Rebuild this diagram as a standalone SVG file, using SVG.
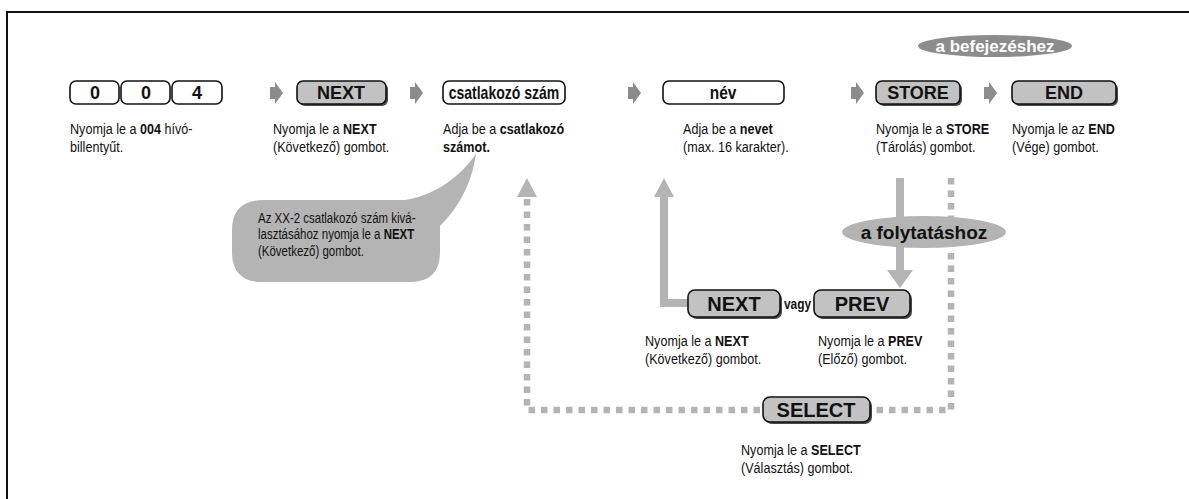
<svg xmlns="http://www.w3.org/2000/svg" width="1189" height="499" viewBox="0 0 1189 499">
  <defs>
    <style>
      text { font-family: "Liberation Sans", Arial, sans-serif; fill: #111; }
      .lbl { font-size: 18px; font-weight: bold; text-anchor: middle; }
      .lbl2 { font-size: 20px; font-weight: bold; text-anchor: middle; }
      .desc { font-size: 15px; }
      .note { font-size: 14px; }
      .b { font-weight: bold; }
      .key { fill: #fff; stroke: #111; stroke-width: 1.6; }
      .btn { fill: #c2c2c2; stroke: #111; stroke-width: 1.6; }
      .sh { fill: #4a4a4a; }
      .step { fill: #8c8c8c; }
      .flow { fill: #b4b4b4; }
      .dash { fill: none; stroke: #b4b4b4; stroke-width: 6.5; stroke-dasharray: 6.5 6; }
    </style>
    <!-- block arrow pointing to the next stage -->
    <polygon id="step" class="step" points="0,-6 5,-6 5,-11 13,0 5,11 5,6 0,6"/>
  </defs>

  <rect width="1189" height="499" fill="#fff"/>
  <!-- open frame: top and left edges -->
  <path d="M7,499 V12 H1189" fill="none" stroke="#111" stroke-width="2"/>

  <g id="connectors">
    <use href="#step" x="270" y="93"/>
    <use href="#step" x="410" y="93"/>
    <use href="#step" x="628" y="93"/>
    <use href="#step" x="851" y="93"/>
    <use href="#step" x="984" y="93"/>
    <!-- back to name entry -->
    <path class="flow" d="M660,197 H654 L664,178 L674,197 H668 V299 H690 V307 H660 Z"/>
    <!-- continue: down to NEXT / PREV -->
    <path class="flow" d="M896,178 H904 V270 H913 L900,288 L887,270 H896 Z"/>
    <!-- SELECT loop back to the number entry -->
    <path class="dash" d="M527,199 V410 H763"/>
    <polygon class="flow" points="527,178 537,197 517,197"/>
    <path class="dash" d="M951,178 V410 H872"/>
  </g>

  <g id="key-004">
    <rect class="key" x="70" y="81" width="49" height="23" rx="6"/>
    <rect class="key" x="121" y="81" width="49" height="23" rx="6"/>
    <rect class="key" x="172" y="81" width="50" height="23" rx="6"/>
    <text class="lbl" x="95" y="99">0</text>
    <text class="lbl" x="146" y="99">0</text>
    <text class="lbl" x="197" y="99">4</text>
    <text class="desc" transform="matrix(0.84 0 0 1 70 134)">Nyomja le a <tspan class="b">004</tspan> hívó-<tspan x="0" y="18">billentyűt.</tspan></text>
  </g>

  <g id="next">
    <rect class="sh" x="299" y="83" width="89" height="23" rx="6"/>
    <rect class="btn" x="297" y="81" width="89" height="23" rx="6"/>
    <text class="lbl" x="341" y="99">NEXT</text>
    <text class="desc" transform="matrix(0.84 0 0 1 273 134)">Nyomja le a <tspan class="b">NEXT</tspan><tspan x="0" y="18">(Következő) gombot.</tspan></text>
  </g>

  <g id="port-number">
    <rect class="key" x="443" y="81" width="122" height="23" rx="6"/>
    <text class="lbl" transform="matrix(0.78 0 0 1 504 99)">csatlakozó szám</text>
    <text class="desc" transform="matrix(0.84 0 0 1 443 134)">Adja be a <tspan class="b">csatlakozó</tspan><tspan class="b" x="0" y="18">számot.</tspan></text>
  </g>

  <g id="name">
    <rect class="key" x="663" y="81" width="121" height="23" rx="6"/>
    <text class="lbl" transform="matrix(0.86 0 0 1 723 99)">név</text>
    <text class="desc" transform="matrix(0.84 0 0 1 683 134)">Adja be a <tspan class="b">nevet</tspan><tspan x="0" y="18">(max. 16 karakter).</tspan></text>
  </g>

  <g id="store">
    <rect class="sh" x="878" y="83" width="84" height="23" rx="6"/>
    <rect class="btn" x="876" y="81" width="84" height="23" rx="6"/>
    <text class="lbl" x="918" y="99">STORE</text>
    <text class="desc" transform="matrix(0.84 0 0 1 876 134)">Nyomja le a <tspan class="b">STORE</tspan><tspan x="0" y="18">(Tárolás) gombot.</tspan></text>
  </g>

  <g id="to-finish">
    <ellipse cx="995" cy="46" rx="77" ry="11" fill="#8c8c8c"/>
    <text x="995" y="52" font-size="17" font-weight="bold" text-anchor="middle" style="fill:#fff">a befejezéshez</text>
  </g>

  <g id="end">
    <rect class="sh" x="1014" y="83" width="104" height="23" rx="6"/>
    <rect class="btn" x="1012" y="81" width="104" height="23" rx="6"/>
    <text class="lbl" x="1064" y="99">END</text>
    <text class="desc" transform="matrix(0.84 0 0 1 1012 134)">Nyomja le az <tspan class="b">END</tspan><tspan x="0" y="18">(Vége) gombot.</tspan></text>
  </g>

  <g id="hint">
    <path class="flow" d="M264,200 H405 C430,196 456,182 476,154 C472,180 462,204 440,226 V252 Q440,282 410,282 H262 Q232,282 232,252 V230 Q232,200 264,200 Z"/>
    <text class="note" transform="matrix(0.82 0 0 1 258 223)">Az XX-2 csatlakozó szám kivá-<tspan x="0" y="16.5">lasztásához nyomja le a <tspan class="b">NEXT</tspan></tspan><tspan x="0" y="33">(Következő) gombot.</tspan></text>
  </g>

  <g id="to-continue">
    <ellipse cx="924" cy="232" rx="82" ry="16" fill="#b4b4b4"/>
    <text x="924" y="239" font-size="19" font-weight="bold" text-anchor="middle">a folytatáshoz</text>
  </g>

  <g id="next-2">
    <rect class="sh" x="690" y="292" width="92" height="27" rx="7"/>
    <rect class="btn" x="688" y="290" width="92" height="27" rx="7"/>
    <text class="lbl2" x="734" y="311">NEXT</text>
    <text class="desc" transform="matrix(0.84 0 0 1 645 346)">Nyomja le a <tspan class="b">NEXT</tspan><tspan x="0" y="18">(Következő) gombot.</tspan></text>
  </g>

  <text class="b" font-size="14" transform="matrix(0.85 0 0 1 784 309)">vagy</text>

  <g id="prev">
    <rect class="sh" x="816" y="292" width="96" height="27" rx="7"/>
    <rect class="btn" x="814" y="290" width="96" height="27" rx="7"/>
    <text class="lbl2" x="862" y="311">PREV</text>
    <text class="desc" transform="matrix(0.84 0 0 1 818 346)">Nyomja le a <tspan class="b">PREV</tspan><tspan x="0" y="18">(Előző) gombot.</tspan></text>
  </g>

  <g id="select">
    <rect class="sh" x="765" y="399" width="107" height="25" rx="7"/>
    <rect class="btn" x="763" y="397" width="107" height="25" rx="7"/>
    <text class="lbl2" x="816" y="417">SELECT</text>
    <text class="desc" transform="matrix(0.84 0 0 1 741 455)">Nyomja le a <tspan class="b">SELECT</tspan><tspan x="0" y="18">(Választás) gombot.</tspan></text>
  </g>
</svg>
